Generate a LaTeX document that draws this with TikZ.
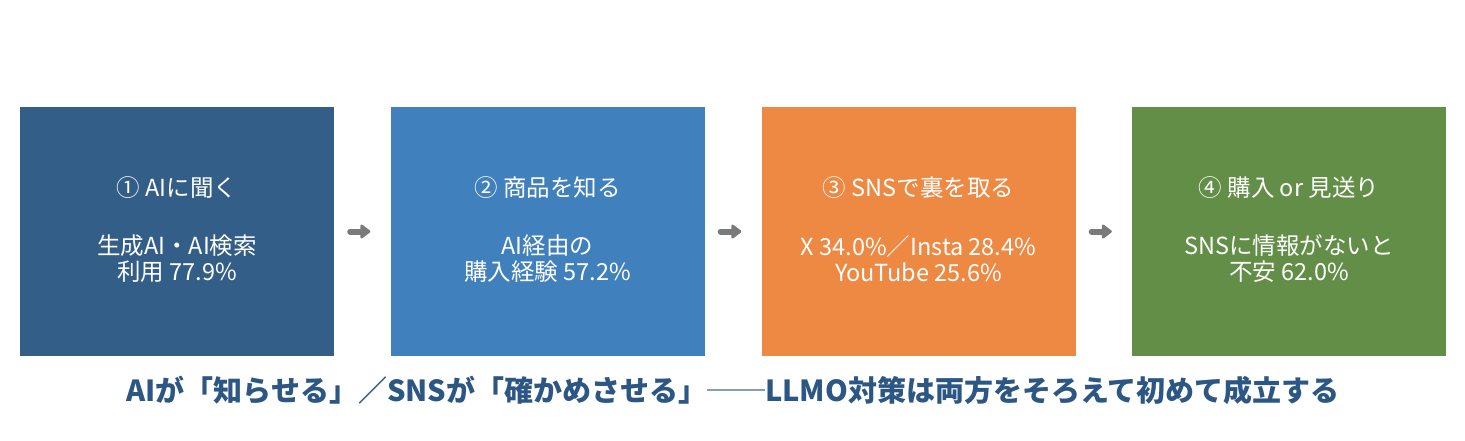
\documentclass[tikz,border=0pt]{standalone}
\usepackage{fontspec}
\setmainfont{Noto Sans CJK JP}
\newfontfamily\jpfont{Noto Sans CJK JP}
\usetikzlibrary{arrows.meta}
\definecolor{cA}{HTML}{335E87}
\definecolor{cB}{HTML}{4080BD}
\definecolor{cC}{HTML}{EE8944}
\definecolor{cD}{HTML}{638E47}
\definecolor{cT}{HTML}{2C5784}
\definecolor{cG}{HTML}{7A7A7A}
\begin{document}
\begin{tikzpicture}[x=1pt,y=1pt,
  box/.style={rectangle, draw=none, minimum width=314pt, minimum height=249pt, inner sep=0pt},
  ttl/.style={text=white, font=\jpfont\fontsize{23.5}{26}\selectfont, inner sep=0pt, anchor=center},
  bdy/.style={text=white, font=\jpfont\fontsize{23.5}{26}\selectfont, align=center, inner sep=0pt, anchor=center},
  arr/.style={draw=cG, line width=6pt, line cap=round, -{Triangle[length=11pt,width=16pt,round]}},
  foot/.style={text=cT, font=\jpfont\bfseries\fontsize{29}{34}\selectfont, inner sep=0pt}
]
\useasboundingbox (0,0) rectangle (1465,-440);
\fill[white] (0,0) rectangle (1465,-440);

\node[box, fill=cA] (b1) at (177,-231.5) {};
\node[box, fill=cB] (b2) at (547.5,-231.5) {};
\node[box, fill=cC] (b3) at (918.5,-231.5) {};
\node[box, fill=cD] (b4) at (1289,-231.5) {};

\node[ttl] (t1) at (177,-188) {① AIに聞く};
\node[ttl] (t2) at (547.5,-188) {② 商品を知る};
\node[ttl] (t3) at (918.5,-188) {③ SNSで裏を取る};
\node[ttl] (t4) at (1289,-188) {④ 購入 or 見送り};

\node[bdy] (d1) at (177,-259) {生成AI・AI検索\\利用 77.9\%};
\node[bdy] (d2) at (547.5,-259) {AI経由の\\購入経験 57.2\%};
\node[bdy] (d3) at (918.5,-259) {X 34.0\%／Insta 28.4\%\\YouTube 25.6\%};
\node[bdy] (d4) at (1289,-259) {SNSに情報がないと\\不安 62.0\%};

\draw[arr, shorten <=16pt, shorten >=20pt] (b1) -- (b2);
\draw[arr, shorten <=16pt, shorten >=20pt] (b2) -- (b3);
\draw[arr, shorten <=16pt, shorten >=20pt] (b3) -- (b4);

\node[foot] (ft) at (733,-390) {AIが「知らせる」／SNSが「確かめさせる」{\mdseries ──}LLMO対策は両方をそろえて初めて成立する};
\end{tikzpicture}
\end{document}
